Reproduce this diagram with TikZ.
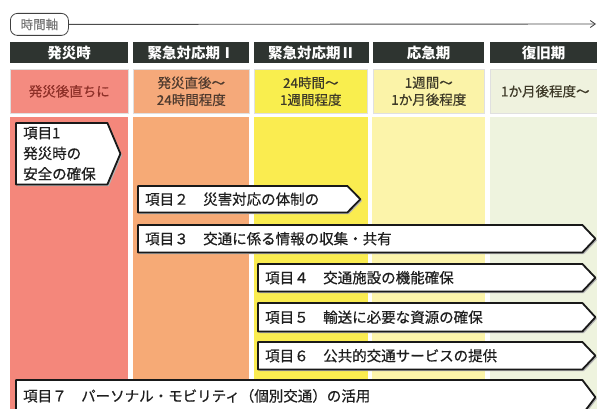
\documentclass[tikz,border=0pt]{standalone}
\usepackage{fontspec}
\setmainfont{Noto Sans CJK JP}
\newfontfamily\jpmed[FakeBold=0.5]{Noto Sans CJK JP}
\usetikzlibrary{arrows.meta,calc}
\definecolor{hdrc}{HTML}{2E3430}
\definecolor{ca}{HTML}{F4877B}
\definecolor{cb}{HTML}{F6AA76}
\definecolor{cc}{HTML}{FAEC50}
\definecolor{cd}{HTML}{FCF4AA}
\definecolor{ce}{HTML}{EEF3DE}
\definecolor{ra}{HTML}{F48B80}
\definecolor{rb}{HTML}{F5A97A}
\definecolor{rc}{HTML}{F9EE4E}
\definecolor{rd}{HTML}{FBF3A8}
\definecolor{re}{HTML}{EFF2DE}
\definecolor{ta}{HTML}{8E3028}
\definecolor{tb}{HTML}{4E3A2E}
\definecolor{tc}{HTML}{3E3A28}
\definecolor{itxt}{HTML}{1E1E1E}
\pgfdeclarelayer{cols}
\pgfdeclarelayer{bg}
\pgfsetlayers{cols,bg,main}
\newcommand\itemoutline[2]{%
  \begin{pgfonlayer}{bg}
    \draw[itemline] (#1.north west) -- (#1.north east) -- ([xshift=#2]#1.east) -- (#1.south east) -- (#1.south west) -- cycle;
  \end{pgfonlayer}}
\begin{document}
\begin{tikzpicture}[x=1pt,y=-1pt,
  hdr/.style={fill=hdrc, text=white, font=\bfseries\fontsize{14.5}{16}\selectfont, minimum height=21, inner sep=0, anchor=north west},
  rowtwo/.style={draw=black!12, line width=0.6pt, minimum height=44, inner sep=0, anchor=north west, align=center, font=\jpmed\fontsize{13.5}{17}\selectfont},
  colbody/.style={minimum height=300, inner sep=0, anchor=north west},
  itm/.style={anchor=north west, inner xsep=7, inner ysep=0, align=left, text=itxt, font=\jpmed\fontsize{14.5}{17}\selectfont},
  itemline/.style={draw=black!90, line width=1.8pt, line join=round, fill=white,
     preaction={fill=black!30, transform canvas={shift={(1.6pt,-1.6pt)}}}},
  axisbox/.style={draw=black!75, line width=0.8pt, rounded corners=7pt, minimum width=58, minimum height=22, inner sep=0, anchor=north west, text=black!55, font=\jpmed\fontsize{12.5}{14}\selectfont},
  axisline/.style={draw=black!70, line width=0.9pt, -{Straight Barb[length=5pt,width=7pt]}}
]
\useasboundingbox (0,0) rectangle (597,409);
\clip (0,0) rectangle (597,409);

% time axis
\node[axisbox] (axis) at (10,13) {時間軸};
\coordinate (axend) at (596,24);
\draw[axisline] (axis.east) -- (axend);

% headers
\node[hdr, minimum width=118] (h1) at (10,42) {発災時};
\node[hdr, minimum width=116] (h2) at (133,42) {緊急対応期Ⅰ};
\node[hdr, minimum width=115] (h3) at (254,42) {緊急対応期Ⅱ};
\node[hdr, minimum width=111] (h4) at (373,42) {応急期};
\node[hdr, minimum width=107] (h5) at (490,42) {復旧期};

% row 2
\node[rowtwo, fill=ra, text=ta, minimum width=118] (r1) at (10,69) {発災後直ちに};
\node[rowtwo, fill=rb, text=tb, minimum width=116] (r2) at (133,69) {発災直後～\\24時間程度};
\node[rowtwo, fill=rc, text=tc, minimum width=113] (r3) at (254,69) {24時間～\\1週間程度};
\node[rowtwo, fill=rd, text=tc, minimum width=111] (r4) at (373,69) {1週間～\\1か月後程度};
\node[rowtwo, fill=re, text=tc, minimum width=110] (r5) at (490,69) {1か月後程度～};

% column bodies
\begin{pgfonlayer}{cols}
\fill[white] (0,0) rectangle (597,409);
\node[colbody, fill=ca, minimum width=118] (b1) at (10,117) {};
\node[colbody, fill=cb, minimum width=116] (b2) at (133,117) {};
\node[colbody, fill=cc, minimum width=114] (b3) at (254,117) {};
\node[colbody, fill=cd, minimum width=113] (b4) at (372,117) {};
\node[colbody, fill=ce, minimum width=110] (b5) at (490,117) {};
\end{pgfonlayer}

% items
\node[itm, minimum width=91, minimum height=61, text width=77, font=\jpmed\fontsize{14.5}{20.5}\selectfont] (i1) at (16,123) {項目1\\発災時の\\安全の確保};
\itemoutline{i1}{13}
\node[itm, minimum width=209, minimum height=26, text width=195] (i2) at (138,186) {項目２　災害対応の体制の};
\itemoutline{i2}{13}
\node[itm, minimum width=444, minimum height=27, text width=430] (i3) at (138,225) {項目３　交通に係る情報の収集・共有};
\itemoutline{i3}{13}
\node[itm, minimum width=324, minimum height=27, text width=310] (i4) at (258,264) {項目４　交通施設の機能確保};
\itemoutline{i4}{13}
\node[itm, minimum width=324, minimum height=28, text width=310] (i5) at (258,303) {項目５　輸送に必要な資源の確保};
\itemoutline{i5}{13}
\node[itm, minimum width=324, minimum height=27, text width=310] (i6) at (258,342) {項目６　公共的交通サービスの提供};
\itemoutline{i6}{13}
\node[itm, minimum width=566, minimum height=34, text width=552] (i7) at (16,380) {\raisebox{4pt}{項目７　パーソナル・モビリティ（個別交通）の活用}};
\itemoutline{i7}{13}
\end{tikzpicture}
\end{document}
